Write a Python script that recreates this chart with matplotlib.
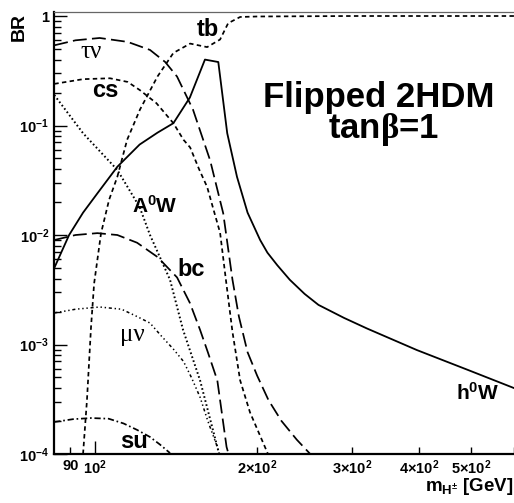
import matplotlib
matplotlib.use('Agg')
import matplotlib.pyplot as plt
from matplotlib.ticker import FixedLocator, FixedFormatter, LogLocator, NullFormatter

# (mass in GeV, BR)
m_h0W = [84, 89.5, 95, 101, 110, 121, 130.6, 139.8, 150, 160, 169.4, 176, 183.5, 192, 202.6,
         209, 218, 230, 245, 260, 290, 320, 396, 493, 600]
br_h0W = [5.0e-3, 1.0e-2, 1.6e-2, 0.024, 0.042, 0.067, 0.086, 0.105, 0.18, 0.40, 0.38, 0.085,
          0.034, 0.016, 9.0e-3, 6.9e-3, 5.3e-3, 3.9e-3, 2.9e-3, 2.3e-3, 1.75e-3, 1.4e-3,
          8.9e-4, 5.85e-4, 4.0e-4]

m_tb = [95.0, 96.6, 98.3, 99.6, 102.6, 106.2, 110, 114.7, 121.2, 130.6, 139.8, 150.2, 161.5,
        170.7, 176.7, 186, 200, 300, 600]
br_tb = [1e-4, 3.1e-4, 1.45e-3, 3.6e-3, 1.04e-2, 2.1e-2, 0.034, 0.074, 0.14, 0.28, 0.46, 0.56,
         0.52, 0.61, 0.86, 0.98, 0.99, 1.0, 1.0]

m_taunu = [84, 92, 102, 115, 126.5, 135, 142, 152, 163.6, 173, 180, 185, 192, 200, 210, 222,
           237, 251]
br_taunu = [0.54, 0.60, 0.63, 0.58, 0.49, 0.38, 0.28, 0.14, 0.048, 0.0158, 3.9e-3, 1.8e-3,
            8.5e-4, 5.2e-4, 3.1e-4, 2.0e-4, 1.35e-4, 1.0e-4]

m_cs = [84, 95, 106.6, 115, 121.2, 130, 139.8, 146, 150.2, 156, 161.5, 166, 170.7, 175, 180,
        186, 194, 209.5]
br_cs = [0.24, 0.265, 0.27, 0.25, 0.21, 0.16, 0.105, 0.074, 0.063, 0.04, 0.0275, 0.017, 0.0105,
         3.9e-3, 1.3e-3, 4.7e-4, 2.4e-4, 1.0e-4]

m_A0W = [84, 95, 110, 121, 126.5, 137.8, 145.7, 156.7, 168.7, 170]
br_A0W = [0.19, 0.085, 0.0393, 0.018, 0.01, 3.9e-3, 1.36e-3, 4.7e-4, 1.16e-4, 1.0e-4]

m_bc = [84, 92, 101, 110, 119.7, 130.6, 142, 150, 156.7, 162, 168.7, 175.5, 177]
br_bc = [9.0e-3, 1.0e-2, 1.04e-2, 1.0e-2, 8.5e-3, 6.3e-3, 4.1e-3, 2.4e-3, 1.36e-3, 8.5e-4,
         4.7e-4, 1.16e-4, 1.0e-4]

m_munu = [84, 92, 102, 112, 119.7, 126.5, 132.7, 140, 146, 151, 156.7, 162, 168.7, 170]
br_munu = [1.94e-3, 2.1e-3, 2.2e-3, 2.1e-3, 1.8e-3, 1.57e-3, 1.2e-3, 9e-4, 7e-4, 5e-4, 3.3e-4,
           2.0e-4, 1.16e-4, 1e-4]

m_su = [84, 91, 98.3, 106, 113, 119.7, 126.5, 132, 137.8]
br_su = [1.96e-4, 2.08e-4, 2.13e-4, 2.1e-4, 1.9e-4, 1.66e-4, 1.43e-4, 1.22e-4, 1.02e-4]

y_ticks = [1e-4, 1e-3, 1e-2, 1e-1, 1]
y_labels = [r'$10^{-4}$', r'$10^{-3}$', r'$10^{-2}$', r'$10^{-1}$', '1']
x_minor = [90, 200, 300, 400, 500, 600]
x_minor_labels = ['90', r'$2{\times}10^{2}$', r'$3{\times}10^{2}$', r'$4{\times}10^{2}$',
                  r'$5{\times}10^{2}$', '']

plt.rcParams['font.family'] = ['Liberation Sans', 'DejaVu Sans']
plt.rcParams['font.weight'] = 'bold'
plt.rcParams['mathtext.fontset'] = 'custom'
plt.rcParams['mathtext.rm'] = 'Liberation Sans:bold'
plt.rcParams['mathtext.it'] = 'Liberation Sans:bold'
plt.rcParams['mathtext.bf'] = 'Liberation Sans:bold'
plt.rcParams['mathtext.sf'] = 'Liberation Serif'
plt.rcParams['lines.scale_dashes'] = False

fig = plt.figure(figsize=(5.14, 5.03), dpi=100)
ax = fig.add_axes([54 / 514, 49 / 503, 460 / 514, 442 / 503])
ax.set_xscale('log')
ax.set_yscale('log')

lw = 1.25
ax.plot(m_h0W, br_h0W, color='black', lw=1.3)
ax.plot(m_tb, br_tb, color='black', lw=lw, dashes=(3.2, 2.4))
ax.plot(m_cs, br_cs, color='black', lw=lw, dashes=(3.2, 2.4))
ax.plot(m_taunu, br_taunu, color='black', lw=lw, dashes=(10, 3.8))
ax.plot(m_bc, br_bc, color='black', lw=lw, dashes=(10, 3.8))
ax.plot(m_A0W, br_A0W, color='black', lw=1.4, dashes=(1.2, 1.8))
ax.plot(m_munu, br_munu, color='black', lw=1.1, dashes=(2.2, 2, 1, 2, 1, 2, 1, 2))
ax.plot(m_su, br_su, color='black', lw=lw, dashes=(4.5, 2, 1.2, 2))

ax.set_xlim(83.9, 600)
ax.set_ylim(1e-4, 1.088)

ax.xaxis.set_major_locator(FixedLocator([100]))
ax.xaxis.set_major_formatter(FixedFormatter([r'$10^{2}$']))
ax.xaxis.set_minor_locator(FixedLocator(x_minor))
ax.xaxis.set_minor_formatter(FixedFormatter(x_minor_labels))
ax.yaxis.set_major_locator(FixedLocator(y_ticks))
ax.yaxis.set_major_formatter(FixedFormatter(y_labels))
ax.yaxis.set_minor_locator(LogLocator(base=10, subs=range(2, 10), numticks=20))
ax.yaxis.set_minor_formatter(NullFormatter())

ax.tick_params(which='both', direction='in', top=False, right=False, width=1, labelsize=10.5)
ax.tick_params(which='major', length=9.4)
ax.tick_params(which='minor', length=4.7)
ax.tick_params(axis='y', which='both', pad=3.5)
ax.tick_params(axis='x', which='both', pad=3.5)

for s in ['left', 'bottom']:
    ax.spines[s].set_linewidth(1.6)
ax.spines['top'].set_color('#666666')
ax.spines['top'].set_linewidth(0.9)
ax.spines['right'].set_visible(False)

# curve labels
ax.text(98.5, 0.47, 'τν', family='Liberation Serif', weight='normal', fontsize=18,
        ha='center', va='center')
ax.text(104.4, 0.21, 'cs', fontsize=17, ha='center', va='center')
ax.text(162, 0.75, 'tb', fontsize=17, ha='center', va='center')
ax.text(129.3, 0.0185, r'$\mathrm{A^{0}W}$', fontsize=15, ha='center', va='center')
ax.text(150.7, 4.8e-3, 'bc', fontsize=17, ha='center', va='center')
ax.text(117.2, 1.22e-3, 'μν', family='Liberation Serif', weight='normal', fontsize=18,
        ha='center', va='center')
ax.text(118.2, 1.31e-4, 'su', fontsize=17, ha='center', va='center')
ax.text(514, 3.6e-4, r'$\mathrm{h^{0}W}$', fontsize=15, ha='center', va='center')

ax.text(337, 0.148, 'Flipped 2HDM', fontsize=25, ha='center', va='baseline')
ax.text(343, 0.077, r'tan$\mathsf{β}$=1', fontsize=25, ha='center', va='baseline')

fig.text(19.5 / 514, 1 - 13 / 503, 'BR', rotation=90, fontsize=14, ha='center', va='top')
fig.text(513 / 514, 1 - 491 / 503, r'$\mathrm{m_{H^{\pm}}}$ [GeV]', fontsize=13.5, ha='right',
         va='baseline')

fig.savefig('out.png', dpi=100)
plt.close(fig)
